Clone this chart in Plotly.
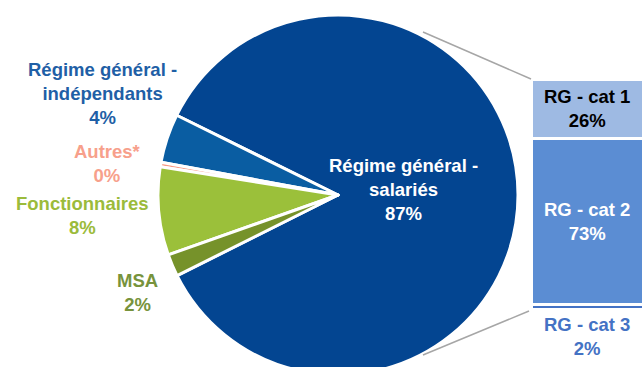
import plotly.graph_objects as go

# Pie data (main split)
pie_labels = ["Régime général -<br>salariés", "Régime général -<br>indépendants", "Autres*", "Fonctionnaires", "MSA"]
pie_pct_text = ["87%", "4%", "0%", "8%", "2%"]
pie_values = [85.3, 4.4, 0.4, 7.9, 2.0]
pie_colors = ["#034591", "#0A5DA2", "#F79A85", "#9BC03A", "#76922A"]
label_colors = ["#FFFFFF", "#1F5FA6", "#F7A08B", "#9BBB3B", "#77933C"]

# Breakdown bar (Régime général - salariés)
bar_labels = ["RG - cat 1", "RG - cat 2", "RG - cat 3"]
bar_pct_text = ["26%", "73%", "2%"]
bar_values = [26, 73, 2]
bar_colors = ["#9EBAE3", "#5B8DD3", "#4472C4"]
bar_text_colors = ["#000000", "#FFFFFF", "#4472C4"]

W, H = 643, 375
OFF = 0

def px(x):
    return (x - OFF) / W

def py(y):
    return 1 - (y - OFF) / H

FONT = "Liberation Sans, Arial, sans-serif"
FS = 18.5

fig = go.Figure()

fig.add_trace(go.Pie(
    values=pie_values,
    labels=[l.replace("<br>", " ") for l in pie_labels],
    marker=dict(colors=pie_colors, line=dict(color="white", width=3)),
    sort=False,
    direction="counterclockwise",
    rotation=-63.7,
    textinfo="none",
    hoverinfo="label+percent",
    domain=dict(x=[px(158), px(518)], y=[0, py(15)]),
    showlegend=False,
))

# stacked bar: bottom first
for i in reversed(range(len(bar_values))):
    fig.add_trace(go.Bar(
        x=[0], y=[bar_values[i]], width=1,
        marker=dict(color=bar_colors[i], line=dict(color="white", width=3)),
        xaxis="x", yaxis="y", showlegend=False,
        hovertemplate=bar_labels[i] + ": " + bar_pct_text[i] + "<extra></extra>",
    ))

total = sum(bar_values)
annotations = []
cum = 0
mids = {}
for i in reversed(range(len(bar_values))):
    mids[i] = cum + bar_values[i] / 2
    cum += bar_values[i]
for i in range(len(bar_values)):
    txt = bar_labels[i] + "<br>" + bar_pct_text[i]
    fnt = dict(family=FONT, size=FS, color=bar_text_colors[i], weight="bold")
    if i == 2:
        annotations.append(dict(x=0, y=0, xref="x", yref="y", xanchor="center", yanchor="top",
                                yshift=-3, text=txt, showarrow=False, font=fnt))
    else:
        annotations.append(dict(x=0, y=mids[i], xref="x", yref="y", xanchor="center",
                                yanchor="middle", text=txt, showarrow=False, font=fnt))

# pie labels (label block centres, page pixels)
pie_label_pos = [(403, 189), (102, 93), (107, 163), (82, 216), (137, 292)]
for i, (lx, ly) in enumerate(pie_label_pos):
    annotations.append(dict(x=px(lx), y=py(ly), xref="paper", yref="paper",
                            xanchor="center", yanchor="middle",
                            text=pie_labels[i] + "<br>" + pie_pct_text[i], showarrow=False,
                            font=dict(family=FONT, size=FS, color=label_colors[i], weight="bold")))

shapes = [
    dict(type="line", xref="paper", yref="paper", x0=px(423), y0=py(32), x1=px(531), y1=py(79),
         line=dict(color="#A6A6A6", width=1.5)),
    dict(type="line", xref="paper", yref="paper", x0=px(423), y0=py(355), x1=px(529), y1=py(311),
         line=dict(color="#A6A6A6", width=1.5)),
]

fig.update_layout(
    width=W, height=H,
    margin=dict(l=0, r=0, t=0, b=0),
    paper_bgcolor="white", plot_bgcolor="white",
    barmode="stack",
    xaxis=dict(domain=[px(531), 1], range=[-0.5, 0.5], visible=False, fixedrange=True),
    yaxis=dict(domain=[py(309), py(79)], range=[0, total], visible=False, fixedrange=True),
    annotations=annotations,
    shapes=shapes,
    font=dict(family=FONT),
)

fig.write_html(
    "out.html",
    config={"displayModeBar": False},
    post_script=(
        "document.body.style.margin='0';"
        "document.body.style.overflow='hidden';"
        "document.documentElement.style.overflow='hidden';"
    ),
)
